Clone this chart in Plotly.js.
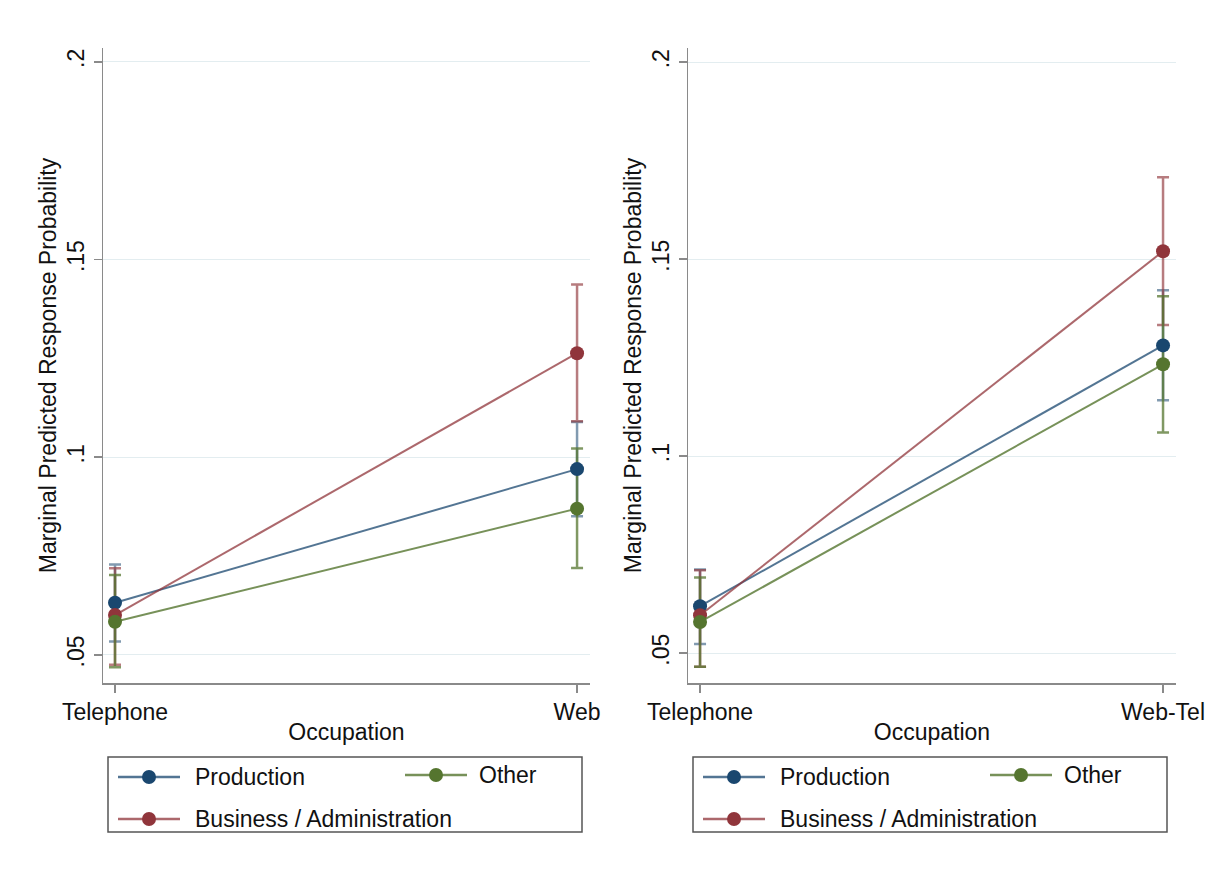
<!DOCTYPE html>
<html>
<head>
<meta charset="utf-8">
<script src="https://cdn.plot.ly/plotly-3.0.1.min.js"></script>
<style>
  html, body { margin: 0; padding: 0; background: #ffffff; }
  #chart { width: 1219px; height: 882px; }
</style>
</head>
<body>
<div id="chart"></div>
<script>
// Survey modes on the x axis of each panel
const modesWeb = ['Telephone', 'Web'];
const modesWebTel = ['Telephone', 'Web-Tel'];

// Occupation groups (drawing order)
const groups = ['Production', 'Business / Administration', 'Other'];

// Panel 1: Telephone vs Web — predicted probability, lower and upper CI
const prodWeb = [0.0632, 0.0970];
const prodWebLo = [0.0534, 0.0851];
const prodWebHi = [0.0729, 0.1089];
const busWeb = [0.0601, 0.1263];
const busWebLo = [0.0475, 0.1091];
const busWebHi = [0.0719, 0.1437];
const othWeb = [0.0584, 0.0870];
const othWebLo = [0.0469, 0.0720];
const othWebHi = [0.0702, 0.1022];

// Panel 2: Telephone vs Web-Tel
const prodTel = [0.0619, 0.1281];
const prodTelLo = [0.0523, 0.1142];
const prodTelHi = [0.0712, 0.1421];
const busTel = [0.0596, 0.1520];
const busTelLo = [0.0465, 0.1333];
const busTelHi = [0.0710, 0.1708];
const othTel = [0.0579, 0.1233];
const othTelLo = [0.0465, 0.1060];
const othTelHi = [0.0692, 0.1406];

// Y tick values and labels
const yTicks = [0.05, 0.1, 0.15, 0.2];
const yTickText = ['.05', '.1', '.15', '.2'];

const markerColors = ['#1a476f', '#90353b', '#55752f'];
const lineColors = ['rgba(26,71,111,0.75)', 'rgba(144,53,59,0.75)', 'rgba(85,117,47,0.8)'];
const barColors = ['rgba(26,71,111,0.55)', 'rgba(144,53,59,0.65)', 'rgba(85,117,47,0.75)'];

const FONT = '"Liberation Sans", Arial, sans-serif';
const FS = 23;
const W = 1219, H = 882;

const panels = [
  { x: modesWeb, xa: 'x', ya: 'y',
    vals: [prodWeb, busWeb, othWeb], lo: [prodWebLo, busWebLo, othWebLo], hi: [prodWebHi, busWebHi, othWebHi] },
  { x: modesWebTel, xa: 'x2', ya: 'y2',
    vals: [prodTel, busTel, othTel], lo: [prodTelLo, busTelLo, othTelLo], hi: [prodTelHi, busTelHi, othTelHi] }
];

const traces = [];
panels.forEach(p => {
  // confidence intervals first so lines and points sit on top
  p.vals.forEach((v, i) => {
    traces.push({
      type: 'scatter', mode: 'markers', x: p.x, y: v, xaxis: p.xa, yaxis: p.ya,
      showlegend: false, hoverinfo: 'skip',
      marker: { size: 1, opacity: 0 },
      error_y: {
        type: 'data', symmetric: false,
        array: v.map((val, k) => p.hi[i][k] - val),
        arrayminus: v.map((val, k) => val - p.lo[i][k]),
        color: barColors[i], thickness: 2.5, width: 6
      }
    });
  });
  p.vals.forEach((v, i) => {
    traces.push({
      type: 'scatter', mode: 'lines+markers', name: groups[i],
      x: p.x, y: v, xaxis: p.xa, yaxis: p.ya, showlegend: false,
      line: { color: lineColors[i], width: 2 },
      marker: { color: markerColors[i], size: 14 }
    });
  });
});

const axisCommon = {
  showline: true, linecolor: '#8a8a8a', linewidth: 1.5,
  ticks: 'outside', ticklen: 8, tickcolor: '#8a8a8a', tickwidth: 1.5,
  tickfont: { family: FONT, size: FS, color: '#111111' },
  zeroline: false
};

function xAxis(domain, cats, anchor) {
  return Object.assign({}, axisCommon, {
    domain: domain, anchor: anchor, type: 'category',
    range: [-0.026, 1.028], showgrid: false,
    title: { text: 'Occupation', font: { family: FONT, size: FS, color: '#111111' }, standoff: 0 }
  });
}
function yAxis(anchor, range) {
  return Object.assign({}, axisCommon, {
    domain: [0.2256, 0.9456], anchor: anchor, range: range,
    tickvals: yTicks, ticktext: yTickText, tickangle: -90,
    showgrid: true, gridcolor: '#e3edf0', gridwidth: 1,
    title: { text: 'Marginal Predicted Response Probability', font: { family: FONT, size: FS, color: '#111111' }, standoff: 0 }
  });
}

const shapes = [];
const annotations = [];
// Boxed key under each panel
[0, 585].forEach(off => {
  const px = v => (v + off) / W;
  const py = v => 1 - v / H;
  shapes.push({ type: 'rect', xref: 'paper', yref: 'paper', x0: px(108), x1: px(582), y0: py(832), y1: py(757),
                line: { color: '#555555', width: 1.5 }, fillcolor: 'rgba(0,0,0,0)' });
  const items = [
    { g: 0, lx: 118, ty: 777, tx: 193 },
    { g: 2, lx: 405, ty: 775, tx: 477 },
    { g: 1, lx: 118, ty: 819, tx: 193 }
  ];
  items.forEach(it => {
    shapes.push({ type: 'line', xref: 'paper', yref: 'paper', x0: px(it.lx), x1: px(it.lx + 62), y0: py(it.ty), y1: py(it.ty),
                  line: { color: lineColors[it.g], width: 2.5 } });
    shapes.push({ type: 'circle', xref: 'paper', yref: 'paper', xsizemode: 'pixel', ysizemode: 'pixel',
                  xanchor: px(it.lx + 31), yanchor: py(it.ty), x0: -7, x1: 7, y0: -7, y1: 7,
                  fillcolor: markerColors[it.g], line: { width: 0 } });
    annotations.push({ xref: 'paper', yref: 'paper', x: px(it.tx), y: py(it.ty), xanchor: 'left', yanchor: 'middle',
                       text: groups[it.g], showarrow: false, font: { family: FONT, size: FS, color: '#111111' } });
  });
});

const layout = {
  width: W, height: H,
  margin: { l: 0, r: 0, t: 0, b: 0 },
  paper_bgcolor: '#ffffff', plot_bgcolor: '#ffffff',
  font: { family: FONT, size: FS, color: '#111111' },
  showlegend: false,
  xaxis: xAxis([103 / W, 590 / W], modesWeb, 'y'),
  yaxis: yAxis('x', [0.0429, 0.2035]),
  xaxis2: xAxis([688 / W, 1176 / W], modesWebTel, 'y2'),
  yaxis2: yAxis('x2', [0.0424, 0.2036]),
  shapes: shapes,
  annotations: annotations
};

Plotly.newPlot('chart', traces, layout, { displayModeBar: false, staticPlot: true });
</script>
</body>
</html>
